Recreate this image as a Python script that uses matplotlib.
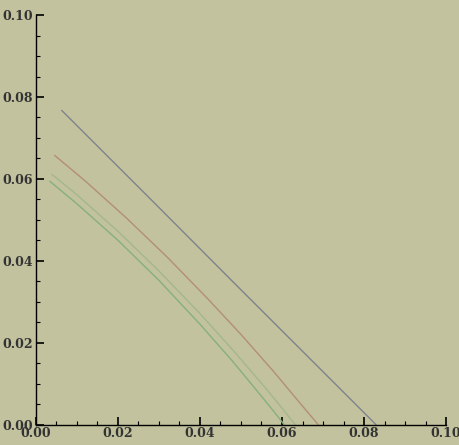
import matplotlib
matplotlib.use("Agg")
import matplotlib.pyplot as plt
from matplotlib.ticker import MultipleLocator, FormatStrFormatter

# four curves (x, y)
gray_x = [0.0063, 0.0285, 0.0477, 0.0672, 0.0829]
gray_y = [0.0767, 0.0545, 0.0352, 0.0157, 0.0000]

red_x = [0.0046, 0.0120, 0.0220, 0.0320, 0.0420, 0.0500, 0.0580, 0.0640, 0.0688]
red_y = [0.0657, 0.0595, 0.0505, 0.0409, 0.0306, 0.0220, 0.0129, 0.0057, 0.0000]

lgreen_x = [0.0039, 0.0100, 0.0200, 0.0300, 0.0400, 0.0480, 0.0560, 0.0600, 0.0632]
lgreen_y = [0.0611, 0.0561, 0.0472, 0.0375, 0.0271, 0.0182, 0.0089, 0.0040, 0.0000]

dgreen_x = [0.0034, 0.0100, 0.0200, 0.0300, 0.0400, 0.0480, 0.0550, 0.0580, 0.0605]
dgreen_y = [0.0594, 0.0539, 0.0450, 0.0352, 0.0245, 0.0154, 0.0069, 0.0032, 0.0000]

BG = "#c2c29e"

fig = plt.figure(figsize=(4.59, 4.45), dpi=100, facecolor=BG)
ax = fig.add_axes([0.0784, 0.046, 0.8933, 0.920])
ax.set_facecolor(BG)

ax.plot(gray_x, gray_y, color="#80838a", lw=1.0)
ax.plot(red_x, red_y, color="#b38f73", lw=1.0)
ax.plot(lgreen_x, lgreen_y, color="#a3b88a", lw=1.0)
ax.plot(dgreen_x, dgreen_y, color="#86b07c", lw=1.0)

ax.set_xlim(0, 0.10)
ax.set_ylim(0, 0.10)
for s in ("top", "right"):
    ax.spines[s].set_visible(False)
for s in ("left", "bottom"):
    ax.spines[s].set_color("black")
    ax.spines[s].set_linewidth(1.0)

ax.xaxis.set_major_locator(MultipleLocator(0.02))
ax.yaxis.set_major_locator(MultipleLocator(0.02))
ax.xaxis.set_minor_locator(MultipleLocator(0.005))
ax.yaxis.set_minor_locator(MultipleLocator(0.005))
ax.xaxis.set_major_formatter(FormatStrFormatter("%.2f"))
ax.yaxis.set_major_formatter(FormatStrFormatter("%.2f"))
ax.tick_params(which="major", direction="in", length=6, width=1.2, color="black",
               labelsize=9, labelcolor="#333333", pad=2)
ax.tick_params(which="minor", direction="in", length=3, width=0.8, color="black")
for lab in ax.get_xticklabels() + ax.get_yticklabels():
    lab.set_family("DejaVu Serif")
    lab.set_fontweight("bold")

fig.savefig("out.png", dpi=100, facecolor=BG)
